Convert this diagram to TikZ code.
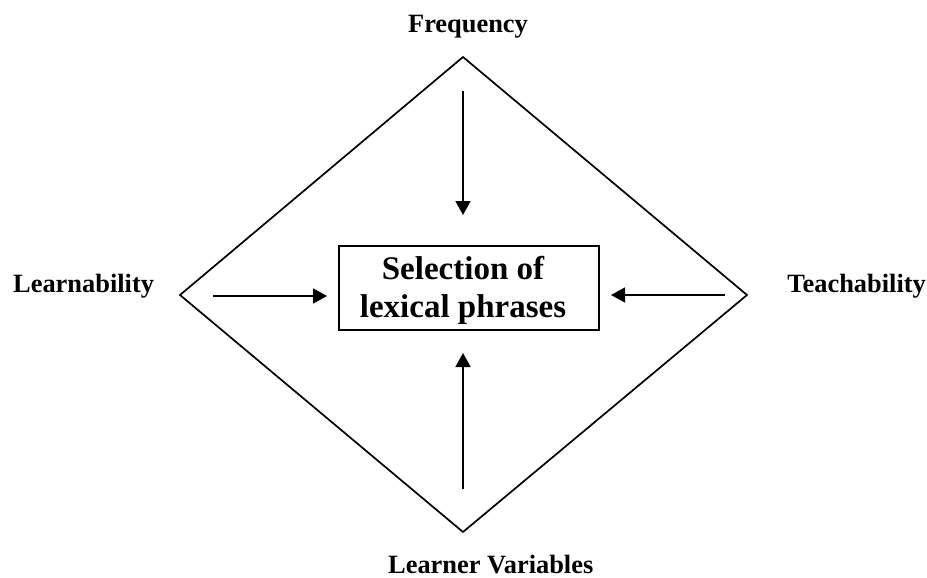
\documentclass[tikz,border=0pt]{standalone}
\usepackage{fontspec}
\setmainfont{Liberation Serif}
\usetikzlibrary{arrows.meta}
\tikzset{
  lbl/.style={font=\bfseries\fontsize{26.4}{30}\selectfont, inner sep=0pt},
  boxtext/.style={font=\bfseries\fontsize{33}{38}\selectfont, inner sep=0pt},
  frame/.style={draw=black, line width=2.2pt},
  arr/.style={line width=1.6pt, -{Triangle[length=14pt,width=15pt]}},
  diam/.style={line width=1.7pt, line join=miter}
}
\begin{document}
\begin{tikzpicture}[x=1pt,y=-1pt]
\useasboundingbox (0,0) rectangle (927,578);
% diamond
\coordinate (T) at (463,57);
\coordinate (R) at (747,295);
\coordinate (B) at (463,532);
\coordinate (L) at (180,295);
\draw[diam] (T) -- (R) -- (B) -- (L) -- cycle;
% labels
\node[lbl, anchor=base] (freq) at (468,32.5) {Frequency};
\node[lbl, anchor=base west] (learn) at (13,292) {Learnability};
\node[lbl, anchor=base east] (teach) at (926,292) {Teachability};
\node[lbl, anchor=base west] (lv) at (388,573) {Learner Variables};
% central box
\node[frame, minimum width=260pt, minimum height=84pt, inner sep=0pt] (box) at (469,288) {};
\node[boxtext, anchor=base] (sel1) at (463,279) {Selection of};
\node[boxtext, anchor=base] (sel2) at (463,317) {lexical phrases};
% arrows
\coordinate (a1s) at (463,91);  \coordinate (a1e) at (463,215);
\coordinate (a2s) at (463,489); \coordinate (a2e) at (463,353);
\coordinate (a3s) at (213,296); \coordinate (a3e) at (327,296);
\coordinate (a4s) at (725,295); \coordinate (a4e) at (611,295);
\draw[arr] (a1s) -- (a1e);
\draw[arr] (a2s) -- (a2e);
\draw[arr] (a3s) -- (a3e);
\draw[arr] (a4s) -- (a4e);
\end{tikzpicture}
\end{document}
